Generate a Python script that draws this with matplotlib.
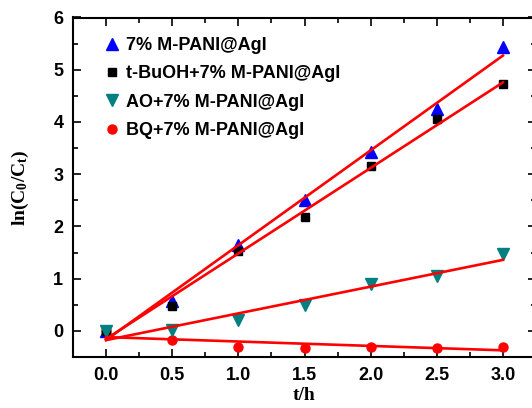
import numpy as np
import matplotlib
matplotlib.use("Agg")
import matplotlib.pyplot as plt
from matplotlib.ticker import MultipleLocator

plt.rcParams["font.family"] = "Liberation Sans"
plt.rcParams["font.weight"] = "bold"
plt.rcParams["mathtext.fontset"] = "custom"
plt.rcParams["mathtext.rm"] = "Liberation Serif:bold"
plt.rcParams["mathtext.it"] = "Liberation Serif:bold"

t = [0.0, 0.5, 1.0, 1.5, 2.0, 2.5, 3.0]
pristine = [0.0, 0.58, 1.65, 2.50, 3.43, 4.25, 5.43]
tbuoh = [0.0, 0.48, 1.53, 2.18, 3.15, 4.05, 4.72]
ao = [0.0, 0.02, 0.20, 0.50, 0.90, 1.05, 1.47]
bq = [0.0, -0.18, -0.30, -0.32, -0.30, -0.32, -0.30]

series = [
    ("7% M-PANI@AgI", pristine, "^", "#0000ff", 8),
    ("t-BuOH+7% M-PANI@AgI", tbuoh, "s", "#000000", 5.5),
    ("AO+7% M-PANI@AgI", ao, "v", "#008080", 8),
    ("BQ+7% M-PANI@AgI", bq, "o", "#ff0000", 6.5),
]

fig = plt.figure(figsize=(5.32, 4.08), dpi=100)
ax = fig.add_axes([73 / 532, 51 / 408, 463 / 532, 339.5 / 408])

x = np.array(t)
handles = []
# BQ drawn first so the t=0 point sits under the others
for z, (label, y, mk, col, ms) in zip([3.2, 3.3, 3.4, 3.1], series):
    h, = ax.plot(x, y, ls="none", marker=mk, color=col, ms=ms, label=label,
                 zorder=z)
    handles.append(h)
for label, y, mk, col, ms in series:
    k, b = np.polyfit(x, y, 1)
    ax.plot([0, 3], [b, k * 3 + b], color="#ff0000", lw=1.9, zorder=4)

ax.set_xlim(-0.25, 3.25)
ax.set_ylim(-0.5, 6)
ax.set_xticks([0, 0.5, 1.0, 1.5, 2.0, 2.5, 3.0])
ax.set_xticklabels(["0.0", "0.5", "1.0", "1.5", "2.0", "2.5", "3.0"])
ax.xaxis.set_minor_locator(MultipleLocator(0.25))
ax.yaxis.set_major_locator(MultipleLocator(1))
ax.yaxis.set_minor_locator(MultipleLocator(0.5))
ax.tick_params(which="both", direction="in", top=True, right=True,
               labelsize=13, width=1.2)
ax.tick_params(which="major", length=6, pad=7)
ax.tick_params(which="minor", length=3.5)
for sp in ax.spines.values():
    sp.set_linewidth(1.5)

ax.set_xlabel("t/h", fontsize=14, fontfamily="Liberation Serif",
              fontweight="bold", labelpad=2)
ax.set_ylabel(r"ln(C$_\mathrm{0}$/C$_\mathrm{t}$)", fontsize=14,
              fontfamily="Liberation Serif", fontweight="bold", labelpad=16)

ax.legend(handles=handles, loc="upper left", frameon=False, fontsize=13,
          handletextpad=0.3, handlelength=1.0, labelspacing=0.63,
          borderpad=0, borderaxespad=0, bbox_to_anchor=(0.064, 0.943))

fig.savefig("out.png", dpi=100)
